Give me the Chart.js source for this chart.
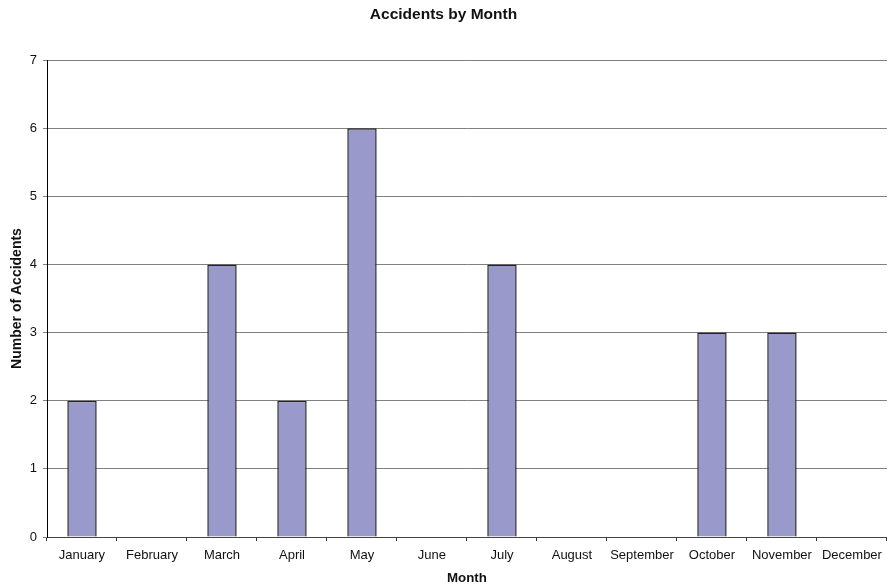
<!DOCTYPE html>
<html>
<head>
<meta charset="utf-8">
<script src="https://cdn.jsdelivr.net/npm/chart.js@4/dist/chart.umd.min.js"></script>
<style>
  html, body { margin: 0; padding: 0; background: #fff; }
  #wrap { width: 889px; height: 587px; }
</style>
</head>
<body>
<div id="wrap"><canvas id="c" width="889" height="587"></canvas></div>
<script>
// Monthly accident counts
const months = ['January', 'February', 'March', 'April', 'May', 'June',
                'July', 'August', 'September', 'October', 'November', 'December'];
const accidents = [2, 0, 4, 2, 6, 0, 4, 0, 0, 3, 3, 0];
const yTicks = [0, 1, 2, 3, 4, 5, 6, 7];

const FONT = 'Liberation Sans, Arial, Helvetica, sans-serif';

new Chart(document.getElementById('c'), {
  type: 'bar',
  data: {
    labels: months,
    datasets: [{
      label: 'Accidents',
      data: accidents,
      backgroundColor: '#9999cc',
      borderColor: '#222',
      borderWidth: 1.5,
      borderSkipped: 'bottom',
      barPercentage: 0.42,
      categoryPercentage: 1.0
    }]
  },
  options: {
    responsive: false,
    animation: false,
    layout: { padding: { left: 0, right: 2, top: 0, bottom: 0 } },
    plugins: {
      legend: { display: false },
      tooltip: { enabled: false },
      title: {
        display: true,
        text: 'Accidents by Month',
        color: '#111',
        font: { family: FONT, size: 15.5, weight: 'bold' },
        padding: { top: 5, bottom: 36.4 }
      }
    },
    scales: {
      x: {
        grid: {
          display: true,
          drawOnChartArea: false,
          offset: true,
          color: '#333',
          tickLength: 4
        },
        border: { display: true, color: '#444', width: 1 },
        ticks: {
          color: '#111',
          font: { family: FONT, size: 13 },
          padding: 7,
          maxRotation: 0,
          autoSkip: false
        },
        title: {
          display: true,
          text: 'Month',
          color: '#111',
          font: { family: FONT, size: 13.3, weight: 'bold' },
          padding: { top: 0, bottom: 1 }
        },
        afterFit(scale) { scale.height = 50; }
      },
      y: {
        min: 0,
        max: 7,
        afterBuildTicks(scale) { scale.ticks = yTicks.map(v => ({ value: v })); },
        grid: {
          color: '#808080',
          lineWidth: 1,
          tickLength: 4
        },
        border: { display: true, color: '#000', width: 1 },
        ticks: {
          color: '#111',
          font: { family: FONT, size: 13 },
          padding: 6
        },
        title: {
          display: true,
          text: 'Number of Accidents',
          color: '#111',
          font: { family: FONT, size: 14, weight: 'bold' },
          padding: { top: 9, bottom: 0 }
        },
        afterFit(scale) { scale.width = 47; }
      }
    }
  }
});
</script>
</body>
</html>
